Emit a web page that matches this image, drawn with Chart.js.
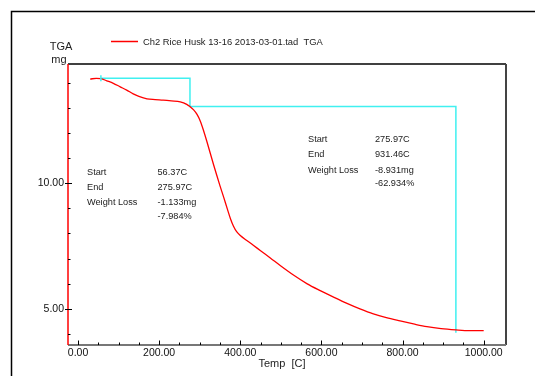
<!DOCTYPE html>
<html>
<head>
<meta charset="utf-8">
<script src="https://cdn.jsdelivr.net/npm/chart.js@4/dist/chart.umd.min.js"></script>
<style>
  body { margin: 0; background: #fff; }
  #wrap { position: relative; width: 535px; height: 376px; }
</style>
</head>
<body>
<div id="wrap"><canvas id="tgaChart" width="535" height="376"></canvas></div>
<script>
// TGA curve (temperature in C, mass in mg)
const temps = [30, 45, 56, 71, 87, 104, 120, 136, 150, 170, 190, 210, 230, 252, 268, 276, 285, 293, 301, 309, 318, 326, 334, 342, 350, 359, 368, 376, 383, 391, 400, 416, 432, 450, 474, 500, 531, 565, 597, 630, 663, 695, 728, 760, 794, 827, 860, 895, 931, 965, 1000];
const masses = [14.16, 14.19, 14.18, 14.09, 13.99, 13.85, 13.72, 13.57, 13.47, 13.37, 13.34, 13.32, 13.29, 13.25, 13.15, 13.06, 12.93, 12.76, 12.5, 12.13, 11.65, 11.2, 10.75, 10.32, 9.9, 9.45, 8.98, 8.58, 8.3, 8.07, 7.92, 7.72, 7.53, 7.31, 7.02, 6.7, 6.34, 5.99, 5.72, 5.46, 5.21, 4.99, 4.79, 4.64, 4.51, 4.39, 4.28, 4.2, 4.15, 4.12, 4.12];

// weight loss steps (cyan)
const stepTemps = [56.37, 275.97, 275.97, 931.46, 931.46];
const stepMass = [14.19, 14.19, 13.06, 13.06, 4.04];

const xTicks = [0, 200, 400, 600, 800, 1000];
const yTicks = [5, 10];

const leftNotes = [["Start", "56.37C"], ["End", "275.97C"], ["Weight Loss", "-1.133mg"], ["", "-7.984%"]];
const rightNotes = [["Start", "275.97C"], ["End", "931.46C"], ["Weight Loss", "-8.931mg"], ["", "-62.934%"]];

const FONT = "'Liberation Sans', Arial, sans-serif";

const decorPlugin = {
  id: "decor",
  beforeDraw(chart) {
    const c = chart.ctx;
    c.save();
    // outer frame
    c.strokeStyle = "#000";
    c.lineWidth = 1.5;
    c.beginPath();
    c.moveTo(11.5, 376);
    c.lineTo(11.5, 11.5);
    c.lineTo(535, 11.5);
    c.stroke();
    c.restore();
  },
  afterDraw(chart) {
    const c = chart.ctx;
    const a = chart.chartArea;
    const xs = chart.scales.x;
    const ys = chart.scales.y;
    c.save();

    // plot box
    c.lineWidth = 1.5;
    c.strokeStyle = "#000";
    c.beginPath();
    c.moveTo(a.left, a.top);
    c.lineTo(a.right, a.top);
    c.stroke();
    c.strokeStyle = "#444";
    c.lineWidth = 2;
    c.beginPath();
    c.moveTo(a.right, a.top);
    c.lineTo(a.right, a.bottom);
    c.stroke();
    c.strokeStyle = "#777";
    c.beginPath();
    c.moveTo(a.left, a.bottom);
    c.lineTo(a.right, a.bottom);
    c.stroke();
    c.strokeStyle = "#ff0000";
    c.lineWidth = 1.5;
    c.beginPath();
    c.moveTo(a.left, a.top);
    c.lineTo(a.left, a.bottom);
    c.stroke();

    // inward ticks
    c.strokeStyle = "#000";
    c.lineWidth = 1;
    for (let v = 0; v <= 1000; v += 50) {
      const px = Math.round(xs.getPixelForValue(v)) + 0.5;
      const len = v % 200 === 0 ? 4.5 : 2.5;
      c.beginPath();
      c.moveTo(px, a.bottom);
      c.lineTo(px, a.bottom - len);
      c.stroke();
    }
    for (let v = 4; v <= 14; v += 1) {
      const py = Math.round(ys.getPixelForValue(v)) + 0.5;
      const major = v % 5 === 0;
      c.beginPath();
      c.moveTo(major ? a.left - 3 : a.left, py);
      c.lineTo(a.left + (major ? 4 : 2.5), py);
      c.stroke();
    }

    // cyan start marker
    const sx = xs.getPixelForValue(stepTemps[0]);
    const sy = ys.getPixelForValue(stepMass[0]);
    c.strokeStyle = "#40f0f0";
    c.lineWidth = 1.5;
    c.beginPath();
    c.moveTo(sx, sy - 3);
    c.lineTo(sx, sy + 3);
    c.stroke();

    // legend
    c.strokeStyle = "#ff0000";
    c.lineWidth = 1.5;
    c.beginPath();
    c.moveTo(111, 41.5);
    c.lineTo(138, 41.5);
    c.stroke();
    c.fillStyle = "#222";
    c.textBaseline = "middle";
    c.textAlign = "left";
    c.font = "9.4px " + FONT;
    c.fillText("Ch2 Rice Husk 13-16 2013-03-01.tad  TGA", 143, 42);

    // axis titles
    c.font = "11px " + FONT;
    c.textAlign = "center";
    c.fillText("TGA", 61, 47);
    c.fillText("mg", 59, 60);
    c.fillText("Temp  [C]", 282, 364);

    // annotations
    c.font = "9.2px " + FONT;
    c.textAlign = "left";
    const rowsL = [172, 187, 202.5, 216.5];
    leftNotes.forEach((r, i) => {
      c.fillText(r[0], 87, rowsL[i]);
      c.fillText(r[1], 157.5, rowsL[i]);
    });
    const rowsR = [139, 154, 170, 183];
    rightNotes.forEach((r, i) => {
      c.fillText(r[0], 308, rowsR[i]);
      c.fillText(r[1], 375, rowsR[i]);
    });
    c.restore();
  }
};

new Chart(document.getElementById("tgaChart"), {
  type: "line",
  data: {
    datasets: [
      {
        label: "Ch2 Rice Husk 13-16 2013-03-01.tad  TGA",
        data: temps.map((t, i) => ({ x: t, y: masses[i] })),
        borderColor: "#ff0000",
        borderWidth: 1.3,
        pointRadius: 0,
        cubicInterpolationMode: "monotone",
        fill: false,
      },
      {
        label: "steps",
        data: stepTemps.map((t, i) => ({ x: t, y: stepMass[i] })),
        borderColor: "#40f0f0",
        borderWidth: 1.5,
        pointRadius: 0,
        tension: 0,
        fill: false,
      },
    ],
  },
  options: {
    responsive: false,
    animation: false,
    layout: { padding: { top: 64, right: 29, left: 0, bottom: 0 } },
    plugins: {
      legend: { display: false },
      tooltip: { enabled: false },
    },
    scales: {
      x: {
        type: "linear",
        min: -24.7,
        max: 1055,
        afterBuildTicks: (s) => { s.ticks = xTicks.map((v) => ({ value: v })); },
        afterFit: (s) => { s.height = 31; },
        grid: { display: false, drawTicks: false },
        border: { display: false },
        ticks: {
          padding: 2,
          maxRotation: 0,
          color: "#111",
          font: { family: FONT, size: 10.5 },
          callback: (v) => Number(v).toFixed(2),
        },
      },
      y: {
        min: 3.55,
        max: 14.76,
        afterBuildTicks: (s) => { s.ticks = yTicks.map((v) => ({ value: v })); },
        afterFit: (s) => { s.width = 68; },
        grid: { display: false, drawTicks: false },
        border: { display: false },
        ticks: {
          padding: 4,
          color: "#111",
          font: { family: FONT, size: 10.5 },
          callback: (v) => Number(v).toFixed(2),
        },
      },
    },
  },
  plugins: [decorPlugin],
});
</script>
</body>
</html>
